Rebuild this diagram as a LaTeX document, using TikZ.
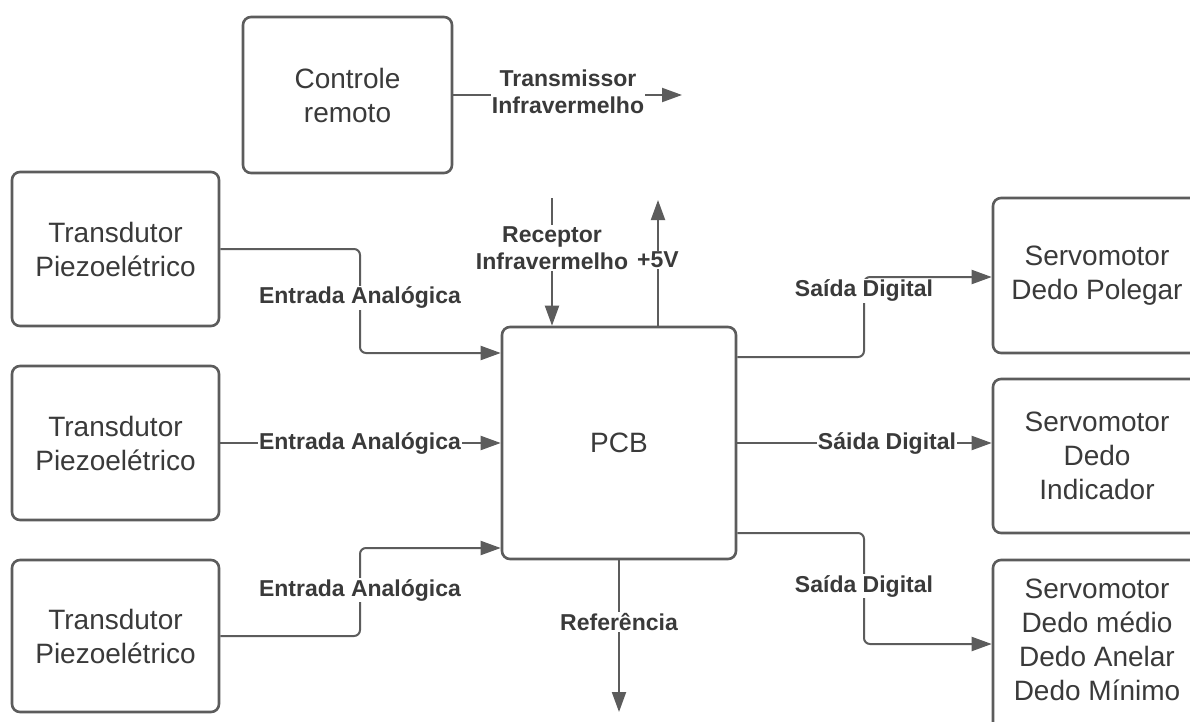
\documentclass[tikz,border=0pt]{standalone}
\usepackage{fontspec}
\setmainfont{Liberation Sans}
\usetikzlibrary{arrows.meta}
\definecolor{ln}{HTML}{5C5C5C}
\definecolor{tx}{HTML}{3A3A3A}
\begin{document}
\begin{tikzpicture}[x=1pt,y=-1pt,
  box/.style={draw=ln,line width=2.6pt,rounded corners=8pt,align=center,text=tx,
    font=\fontsize{28}{34}\selectfont,inner sep=0pt},
  conn/.style={draw=ln,line width=2pt,rounded corners=6pt},
  arr/.style={conn,-{Triangle[length=20pt,width=14pt]}},
  lbl/.style={fill=white,text=tx,font=\bfseries\fontsize{23}{27}\selectfont,align=center,inner sep=1pt}]
\useasboundingbox (0,0) rectangle (1190,722);
\fill[white] (0,0) rectangle (1190,722);

\node[box,minimum width=209pt,minimum height=156pt] (ctrl) at (347.5,95) {Controle\\remoto};
\node[box,minimum width=207pt,minimum height=154pt] (t1) at (115.5,249) {Transdutor\\Piezoelétrico};
\node[box,minimum width=207pt,minimum height=154pt] (t2) at (115.5,443) {Transdutor\\Piezoelétrico};
\node[box,minimum width=207pt,minimum height=152pt] (t3) at (115.5,636) {Transdutor\\Piezoelétrico};
\node[box,minimum width=234pt,minimum height=232pt] (pcb) at (619,443) {PCB};
\node[box,minimum width=208pt,minimum height=155pt] (s1) at (1097,275.5) {Servomotor\\Dedo Polegar};
\node[box,minimum width=208pt,minimum height=154pt] (s2) at (1097,456) {Servomotor\\Dedo\\Indicador};
\node[box,minimum width=208pt,minimum height=180pt,text depth=20pt] (s3) at (1097,650) {Servomotor\\Dedo médio\\Dedo Anelar\\Dedo Mínimo};

\coordinate (txend) at (682,95);
\coordinate (rxstart) at (552,198);
\coordinate (vend) at (658,200);
\coordinate (refend) at (619,712);

\draw[arr] (ctrl.east |- txend) -- (txend);
\draw[arr] (rxstart) -- (rxstart |- pcb.north);
\draw[arr] (vend |- pcb.north) -- (vend);
\draw[arr] (refend |- pcb.south) -- (refend);

\draw[arr] (t1.east) -| (360,353) -- (pcb.west |- 360,353);
\draw[arr] (t2.east |- pcb.west) -- (pcb.west);
\draw[arr] (t3.east) -| (360,548) -- (pcb.west |- 360,548);

\draw[arr] (pcb.east |- 0,357) -| (864,277) -- (s1.west |- 864,277);
\draw[arr] (pcb.east) -- (s2.west |- pcb.east);
\draw[arr] (pcb.east |- 0,533) -| (864,644) -- (s3.west |- 864,644);

\node[lbl] (ltx) at (568,92) {Transmissor\\Infravermelho};
\node[lbl] (lrx) at (552,248) {Receptor\\Infravermelho};
\node[lbl] (l5v) at (658,260) {+5V};
\node[lbl] (lref) at (619,622) {Referência};
\node[lbl] (le1) at (360,298) {Entrada Analógica};
\node[lbl] (le2) at (360,443) {Entrada Analógica};
\node[lbl] (le3) at (360,590) {Entrada Analógica};
\node[lbl] (ls1) at (864,291) {Saída Digital};
\node[lbl] (ls2) at (887,443) {Sáida Digital};
\node[lbl] (ls3) at (864,586) {Saída Digital};
\end{tikzpicture}
\end{document}
